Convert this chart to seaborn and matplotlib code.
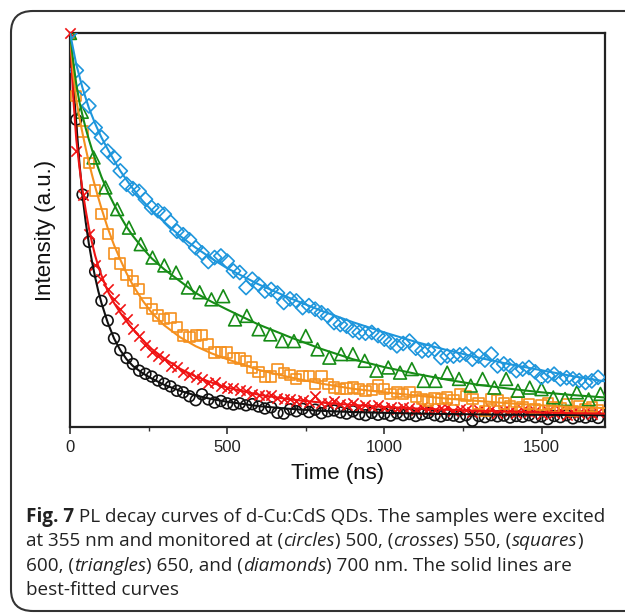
import numpy as np
import pandas as pd
import matplotlib
matplotlib.use("Agg")
import matplotlib.pyplot as plt
import seaborn as sns
from matplotlib.patches import FancyBboxPatch

# ---------------- data ----------------
t20 = [0, 20, 40, 60, 80, 100, 120, 140, 160, 180, 200, 220, 240, 260, 280, 300,
       320, 340, 360, 380, 400, 420, 440, 460, 480, 500, 520, 540, 560, 580, 600,
       620, 640, 660, 680, 700, 720, 740, 760, 780, 800, 820, 840, 860, 880, 900,
       920, 940, 960, 980, 1000, 1020, 1040, 1060, 1080, 1100, 1120, 1140, 1160,
       1180, 1200, 1220, 1240, 1260, 1280, 1300, 1320, 1340, 1360, 1380, 1400,
       1420, 1440, 1460, 1480, 1500, 1520, 1540, 1560, 1580, 1600, 1620, 1640,
       1660, 1680]

circles_500 = [1.0, 0.78, 0.59, 0.47, 0.395, 0.32, 0.27, 0.225, 0.195, 0.175, 0.16,
               0.143, 0.135, 0.128, 0.118, 0.11, 0.103, 0.092, 0.088, 0.078, 0.068,
               0.083, 0.07, 0.062, 0.066, 0.06, 0.057, 0.06, 0.055, 0.058, 0.052,
               0.047, 0.05, 0.036, 0.034, 0.045, 0.04, 0.046, 0.038, 0.044, 0.035,
               0.04, 0.042, 0.037, 0.034, 0.04, 0.033, 0.03, 0.036, 0.031, 0.034,
               0.029, 0.035, 0.03, 0.033, 0.028, 0.032, 0.036, 0.03, 0.027, 0.031,
               0.029, 0.026, 0.03, 0.016, 0.028, 0.025, 0.03, 0.027, 0.029, 0.024,
               0.028, 0.026, 0.03, 0.025, 0.027, 0.02, 0.028, 0.025, 0.03, 0.022,
               0.027, 0.024, 0.028, 0.023]

crosses_550 = [1.0, 0.70, 0.59, 0.49, 0.41, 0.375, 0.35, 0.325, 0.30, 0.274, 0.25,
               0.23, 0.207, 0.19, 0.181, 0.173, 0.156, 0.152, 0.139, 0.131, 0.128,
               0.122, 0.112, 0.115, 0.105, 0.10, 0.098, 0.095, 0.092, 0.085, 0.082,
               0.078, 0.08, 0.073, 0.07, 0.071, 0.066, 0.068, 0.063, 0.079, 0.062,
               0.06, 0.065, 0.058, 0.055, 0.06, 0.052, 0.056, 0.05, 0.055, 0.049,
               0.052, 0.045, 0.05, 0.047, 0.043, 0.05, 0.046, 0.042, 0.048, 0.05,
               0.04, 0.045, 0.042, 0.038, 0.044, 0.04, 0.046, 0.036, 0.042, 0.04,
               0.035, 0.043, 0.038, 0.041, 0.034, 0.04, 0.036, 0.042, 0.03, 0.038,
               0.035, 0.04, 0.033, 0.037]

squares_600 = [1.0, 0.84, 0.75, 0.67, 0.60, 0.54, 0.49, 0.44, 0.415, 0.385, 0.37,
               0.35, 0.315, 0.30, 0.283, 0.274, 0.277, 0.253, 0.232, 0.228, 0.232,
               0.234, 0.21, 0.189, 0.19, 0.189, 0.176, 0.174, 0.168, 0.151, 0.14,
               0.128, 0.128, 0.147, 0.137, 0.132, 0.122, 0.13, 0.13, 0.109, 0.13,
               0.109, 0.10, 0.096, 0.098, 0.10, 0.096, 0.092, 0.095, 0.105, 0.096,
               0.084, 0.088, 0.084, 0.088, 0.076, 0.071, 0.067, 0.072, 0.071, 0.075,
               0.068, 0.084, 0.079, 0.071, 0.06, 0.041, 0.071, 0.067, 0.06, 0.052,
               0.063, 0.05, 0.058, 0.045, 0.055, 0.06, 0.05, 0.048, 0.058, 0.04,
               0.052, 0.045, 0.05, 0.044]

diamonds_700 = [1.0, 0.905, 0.86, 0.815, 0.76, 0.735, 0.70, 0.684, 0.65, 0.616,
                0.605, 0.598, 0.578, 0.557, 0.549, 0.54, 0.52, 0.497, 0.488, 0.475,
                0.455, 0.442, 0.42, 0.43, 0.434, 0.421, 0.396, 0.392, 0.354, 0.375,
                0.362, 0.345, 0.349, 0.34, 0.316, 0.325, 0.32, 0.303, 0.308, 0.299,
                0.29, 0.282, 0.265, 0.26, 0.256, 0.245, 0.24, 0.238, 0.24, 0.232,
                0.223, 0.215, 0.206, 0.212, 0.218, 0.20, 0.193, 0.195, 0.197, 0.176,
                0.18, 0.18, 0.183, 0.185, 0.172, 0.18, 0.17, 0.185, 0.155, 0.16,
                0.155, 0.143, 0.147, 0.151, 0.14, 0.126, 0.13, 0.134, 0.122, 0.125,
                0.122, 0.118, 0.113, 0.117, 0.126]

t_tri = [0, 37.5, 75, 112.5, 150, 187.5, 225, 262.5, 300, 337.5, 375, 412.5, 450,
         487.5, 525, 562.5, 600, 637.5, 675, 712.5, 750, 787.5, 825, 862.5, 900,
         937.5, 975, 1012.5, 1050, 1087.5, 1125, 1162.5, 1200, 1237.5, 1275,
         1312.5, 1350, 1387.5, 1425, 1462.5, 1500, 1537.5, 1575, 1612.5, 1650,
         1687.5]
triangles_650 = [1.0, 0.80, 0.684, 0.608, 0.553, 0.506, 0.464, 0.43, 0.41, 0.392,
                 0.354, 0.342, 0.324, 0.332, 0.273, 0.282, 0.248, 0.235, 0.218,
                 0.218, 0.231, 0.197, 0.176, 0.185, 0.185, 0.168, 0.143, 0.151,
                 0.138, 0.147, 0.117, 0.117, 0.138, 0.122, 0.105, 0.122, 0.10,
                 0.122, 0.092, 0.10, 0.096, 0.075, 0.071, 0.088, 0.07, 0.084]

# fitted curves, sampled along time
t_fit = [0, 10, 20, 30, 40, 50, 60, 70, 80, 90, 100, 120, 140, 160, 180, 200, 230,
         260, 300, 350, 400, 450, 500, 600, 700, 800, 900, 1000, 1100, 1200, 1300,
         1400, 1500, 1600, 1700]
fit_500 = [1.0, 0.875, 0.77, 0.67, 0.585, 0.52, 0.465, 0.42, 0.38, 0.345, 0.315,
           0.265, 0.225, 0.195, 0.172, 0.155, 0.137, 0.123, 0.107, 0.092, 0.08,
           0.071, 0.064, 0.053, 0.046, 0.041, 0.038, 0.036, 0.034, 0.033, 0.032,
           0.031, 0.031, 0.030, 0.030]
fit_550 = [1.0, 0.84, 0.73, 0.66, 0.60, 0.55, 0.505, 0.468, 0.435, 0.408, 0.385,
           0.345, 0.315, 0.29, 0.268, 0.248, 0.222, 0.198, 0.174, 0.148, 0.128,
           0.113, 0.10, 0.082, 0.07, 0.062, 0.056, 0.051, 0.047, 0.044, 0.041,
           0.039, 0.037, 0.035, 0.034]
fit_600 = [1.0, 0.90, 0.83, 0.785, 0.745, 0.707, 0.672, 0.64, 0.61, 0.582, 0.555,
           0.505, 0.462, 0.425, 0.39, 0.36, 0.322, 0.29, 0.258, 0.228, 0.205,
           0.187, 0.172, 0.145, 0.126, 0.11, 0.097, 0.088, 0.08, 0.072, 0.066,
           0.06, 0.055, 0.051, 0.048]
fit_650 = [1.0, 0.93, 0.87, 0.825, 0.79, 0.758, 0.73, 0.704, 0.68, 0.657, 0.635,
           0.597, 0.565, 0.535, 0.508, 0.485, 0.455, 0.428, 0.40, 0.37, 0.34,
           0.318, 0.298, 0.26, 0.228, 0.198, 0.172, 0.152, 0.135, 0.12, 0.107,
           0.097, 0.088, 0.081, 0.075]
fit_700 = [1.0, 0.96, 0.92, 0.89, 0.86, 0.835, 0.81, 0.79, 0.77, 0.752, 0.735,
           0.705, 0.677, 0.65, 0.627, 0.605, 0.575, 0.55, 0.52, 0.485, 0.455,
           0.428, 0.403, 0.362, 0.327, 0.295, 0.266, 0.24, 0.216, 0.195, 0.176,
           0.159, 0.144, 0.129, 0.116]

xticks = [0, 500, 1000, 1500]
xlabel = "Time (ns)"
ylabel = "Intensity (a.u.)"

caption = [
    [("Fig. 7", "bold"), (" PL decay curves of d-Cu:CdS QDs. The samples were excited", "normal")],
    [("at 355 nm and monitored at (", "normal"), ("circles", "italic"), (") 500, (", "normal"),
     ("crosses", "italic"), (") 550, (", "normal"), ("squares", "italic"), (")", "normal")],
    [("600, (", "normal"), ("triangles", "italic"), (") 650, and (", "normal"),
     ("diamonds", "italic"), (") 700 nm. The solid lines are", "normal")],
    [("best-fitted curves", "normal")],
]

c_black = "#111111"
c_red = "#f01414"
c_orange = "#f5901e"
c_green = "#168c16"
c_blue = "#1e96dc"

# ---------------- figure ----------------
sns.set_theme(style="white")
plt.rcParams["font.family"] = ["Liberation Sans", "DejaVu Sans"]

W, H = 625, 613
fig = plt.figure(figsize=(W / 100, H / 100), dpi=100)

frame = FancyBboxPatch((11 / W, 1 - 611 / H), (W + 40) / W, (611 - 11) / H,
                       boxstyle="round,pad=0,rounding_size=0.035",
                       transform=fig.transFigure, fill=False,
                       edgecolor="#333333", linewidth=1.5, clip_on=False)
fig.patches.append(frame)

ax = fig.add_axes([70 / W, 1 - 427 / H, (605 - 70) / W, (427 - 33) / H])

series = [
    (fit_500, t20, circles_500, c_black, "o", 60),
    (fit_550, t20, crosses_550, c_red, "x", 55),
    (fit_600, t20, squares_600, c_orange, "s", 55),
    (fit_650, t_tri, triangles_650, c_green, "^", 85),
    (fit_700, t20, diamonds_700, c_blue, "D", 52),
]

for fit, tt, vals, col, mk, sz in series:
    df = pd.DataFrame({"t": tt, "v": vals})
    if mk == "x":
        sns.scatterplot(data=df, x="t", y="v", ax=ax, marker="x", s=sz,
                        color=col, linewidth=1.2, zorder=3, clip_on=False)
    else:
        sns.scatterplot(data=df, x="t", y="v", ax=ax, marker=mk, s=sz,
                        facecolor="none", edgecolor=col, linewidth=1.2,
                        zorder=3, clip_on=True)
    dff = pd.DataFrame({"t": t_fit, "v": fit})
    sns.lineplot(data=dff, x="t", y="v", ax=ax, color=col, linewidth=1.5,
                 zorder=4, sort=False)

ax.set_xlim(0, 1702)
ax.set_ylim(0, 1.0)
ax.set_yticks([])
ax.set_xticks(xticks)
ax.set_xticks([250, 750, 1250], minor=True)
ax.tick_params(axis="x", which="major", direction="out", length=5, width=1.2,
               color="#333333", labelsize=12, pad=4, bottom=True,
               labelcolor="#222222")
ax.tick_params(axis="x", which="minor", direction="out", length=3, width=1.0,
               color="#333333", bottom=True)
for sp in ax.spines.values():
    sp.set_color("#222222")
    sp.set_linewidth(1.6)
ax.set_xlabel(xlabel, fontsize=16, labelpad=6, color="#111111")
ax.set_ylabel(ylabel, fontsize=16, labelpad=10, color="#111111")

# caption, built piecewise
cap_font = ["Open Sans", "DejaVu Sans"]
fs = 13.6
lines_y = [517, 541, 566, 590]
fig.canvas.draw()
renderer = fig.canvas.get_renderer()
for parts, yy in zip(caption, lines_y):
    x = 26.0
    for txt, style in parts:
        kw = dict(fontsize=fs, family=cap_font, va="center", ha="left",
                  color="#222222")
        if style == "bold":
            kw["fontweight"] = "bold"
        elif style == "italic":
            kw["fontstyle"] = "italic"
        tobj = fig.text(x / W, 1 - yy / H, txt, **kw)
        bb = tobj.get_window_extent(renderer=renderer)
        x = bb.x1

fig.savefig("out.png", dpi=100)
